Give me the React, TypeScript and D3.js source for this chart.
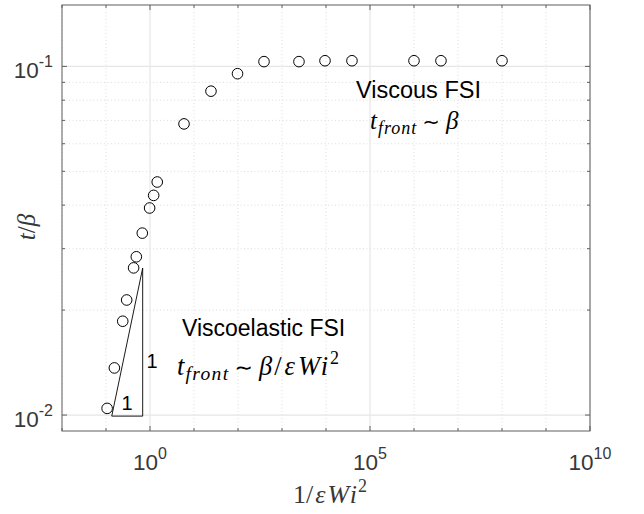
import React from "react";
import * as d3 from "d3";

const xValues = [0.106, 0.155, 0.24, 0.295, 0.424, 0.489, 0.668, 0.98, 1.21, 1.46, 5.93, 24.3, 97.5, 390, 2430, 9490, 38900, 1.0e6, 4.1e6, 1.0e8];
const yValues = [0.01045, 0.01365, 0.01858, 0.02138, 0.02643, 0.02844, 0.03325, 0.03925, 0.04266, 0.0466, 0.0684, 0.0849, 0.0953, 0.1032, 0.1032, 0.1038, 0.1038, 0.1038, 0.1038, 0.1038];
const triangleX = [0.135, 0.682];
const triangleY = [0.00993, 0.0264];
const xMajorExp = [0, 5, 10];
const xMinorExp = [-2, -1, 1, 2, 3, 4, 6, 7, 8, 9];
const yMajorExp = [-2, -1];
const yMinorVals = [0.02, 0.03, 0.04, 0.05, 0.06, 0.07, 0.08, 0.09];

const W = 644, H = 514;
const L = 62, R = 590, T = 5, B = 431;

export default function App() {
  const x = d3.scaleLog().domain([1e-2, 1e10]).range([L, R]);
  const y = d3.scaleLog().domain([0.009, 0.15]).range([B, T]);
  const axisColor = "#5e5e5e";
  const labelColor = "#383838";
  const sans = "'Liberation Sans', Arial, Helvetica, sans-serif";
  const serif = "'Liberation Serif', 'Times New Roman', serif";
  const symFont = "'DejaVu Sans', sans-serif";
  const majLen = 5, minLen = 3;
  const triPath = d3.line()([
    [x(triangleX[0]), y(triangleY[0])],
    [x(triangleX[1]), y(triangleY[1])],
    [x(triangleX[1]), y(triangleY[0])],
    [x(triangleX[0]), y(triangleY[0])],
  ]) as string;

  return (
    <svg width={W} height={H} style={{ position: "absolute", left: 0, top: 0, background: "#fff" }}>
      <rect x={0} y={0} width={W} height={H} fill="#fff" />
      {/* minor grid */}
      {xMinorExp.map(e => (
        <line key={"gx" + e} x1={x(Math.pow(10, e))} x2={x(Math.pow(10, e))} y1={T} y2={B}
          stroke="#d4d4d4" strokeWidth={0.8} strokeDasharray="1,2.5" />
      ))}
      {yMinorVals.map(v => (
        <line key={"gy" + v} x1={L} x2={R} y1={y(v)} y2={y(v)}
          stroke="#d4d4d4" strokeWidth={0.8} strokeDasharray="1,2.5" />
      ))}
      {/* major grid */}
      {xMajorExp.map(e => (
        <line key={"Gx" + e} x1={x(Math.pow(10, e))} x2={x(Math.pow(10, e))} y1={T} y2={B}
          stroke="#e6e6e6" strokeWidth={1.2} />
      ))}
      {yMajorExp.map(e => (
        <line key={"Gy" + e} x1={L} x2={R} y1={y(Math.pow(10, e))} y2={y(Math.pow(10, e))}
          stroke="#e6e6e6" strokeWidth={1.2} />
      ))}
      {/* ticks */}
      {xMajorExp.map(e => {
        const px = x(Math.pow(10, e));
        return (
          <g key={"tx" + e}>
            <line x1={px} x2={px} y1={B} y2={B - majLen} stroke={axisColor} />
            <line x1={px} x2={px} y1={T} y2={T + majLen} stroke={axisColor} />
          </g>
        );
      })}
      {xMinorExp.map(e => {
        const px = x(Math.pow(10, e));
        return (
          <g key={"mtx" + e}>
            <line x1={px} x2={px} y1={B} y2={B - minLen} stroke={axisColor} />
            <line x1={px} x2={px} y1={T} y2={T + minLen} stroke={axisColor} />
          </g>
        );
      })}
      {yMajorExp.map(e => {
        const py = y(Math.pow(10, e));
        return (
          <g key={"ty" + e}>
            <line x1={L} x2={L + majLen} y1={py} y2={py} stroke={axisColor} />
            <line x1={R} x2={R - majLen} y1={py} y2={py} stroke={axisColor} />
          </g>
        );
      })}
      {yMinorVals.map(v => {
        const py = y(v);
        return (
          <g key={"mty" + v}>
            <line x1={L} x2={L + minLen} y1={py} y2={py} stroke={axisColor} />
            <line x1={R} x2={R - minLen} y1={py} y2={py} stroke={axisColor} />
          </g>
        );
      })}
      {/* box */}
      <rect x={L} y={T} width={R - L} height={B - T} fill="none" stroke={axisColor} strokeWidth={1} />
      {/* x tick labels */}
      {xMajorExp.map(e => (
        <text key={"lx" + e} x={x(Math.pow(10, e))} y={470} textAnchor="middle"
          fontFamily={sans} fontSize={22.5} fill={labelColor}>
          10<tspan dy={-11} fontSize={16}>{String(e)}</tspan>
        </text>
      ))}
      {/* y tick labels */}
      {yMajorExp.map(e => (
        <text key={"ly" + e} x={L - 9} y={y(Math.pow(10, e)) + 12} textAnchor="end"
          fontFamily={sans} fontSize={22.5} fill={labelColor}>
          10<tspan dy={-11} fontSize={16}>{String(e)}</tspan>
        </text>
      ))}
      {/* data */}
      {xValues.map((v, i) => (
        <circle key={"p" + i} cx={x(v)} cy={y(yValues[i])} r={5.3} fill="none" stroke="#000" strokeWidth={1} />
      ))}
      {/* slope triangle */}
      <path d={triPath} fill="none" stroke="#000" strokeWidth={0.9} />
      <text x={127} y={410} textAnchor="middle" fontFamily={sans} fontSize={20} fill="#000">1</text>
      <text x={152} y={368} textAnchor="middle" fontFamily={sans} fontSize={20} fill="#000">1</text>
      {/* annotations */}
      <text x={356} y={98} fontFamily={sans} fontSize={23.5} fill="#000">Viscous FSI</text>
      <text x={370} y={129} fontFamily={serif} fontSize={25} fill="#000">
        <tspan fontStyle="italic">t</tspan>
        <tspan fontStyle="italic" fontSize={18} dy={5} dx={1} letterSpacing={1}>front</tspan>
        <tspan dy={-5} dx={5} fontFamily={symFont} fontSize={21}>∼</tspan>
        <tspan dx={6} fontStyle="italic">β</tspan>
      </text>
      <text x={182} y={336} fontFamily={sans} fontSize={23} fill="#000">Viscoelastic FSI</text>
      <text x={177} y={375} fontFamily={serif} fontSize={26.5} fill="#000">
        <tspan fontStyle="italic">t</tspan>
        <tspan fontStyle="italic" fontSize={19.5} dy={5} dx={1} letterSpacing={1.4}>front</tspan>
        <tspan dy={-5} dx={5} fontFamily={symFont} fontSize={22}>∼</tspan>
        <tspan dx={6} fontStyle="italic">β</tspan>
        <tspan dx={2}>/</tspan>
        <tspan dx={3} fontStyle="italic">ε</tspan>
        <tspan dx={3} fontStyle="italic">W</tspan>
        <tspan dx={2} fontStyle="italic">i</tspan>
        <tspan dx={2} fontSize={18} dy={-11}>2</tspan>
      </text>
      {/* axis labels */}
      <text x={(L + R) / 2 + 4} y={503} textAnchor="middle" fontFamily={serif} fontSize={26} fill={labelColor}>
        1/<tspan dx={2} fontStyle="italic">ε</tspan><tspan dx={2} fontStyle="italic">W</tspan><tspan dx={2} fontStyle="italic">i</tspan><tspan dx={1} fontSize={18} dy={-11}>2</tspan>
      </text>
      <text transform={`translate(35,227) rotate(-90)`} textAnchor="middle" fontFamily={serif} fontSize={25} fill={labelColor}>
        <tspan fontStyle="italic">t</tspan>/<tspan fontStyle="italic">β</tspan>
      </text>
    </svg>
  );
}
